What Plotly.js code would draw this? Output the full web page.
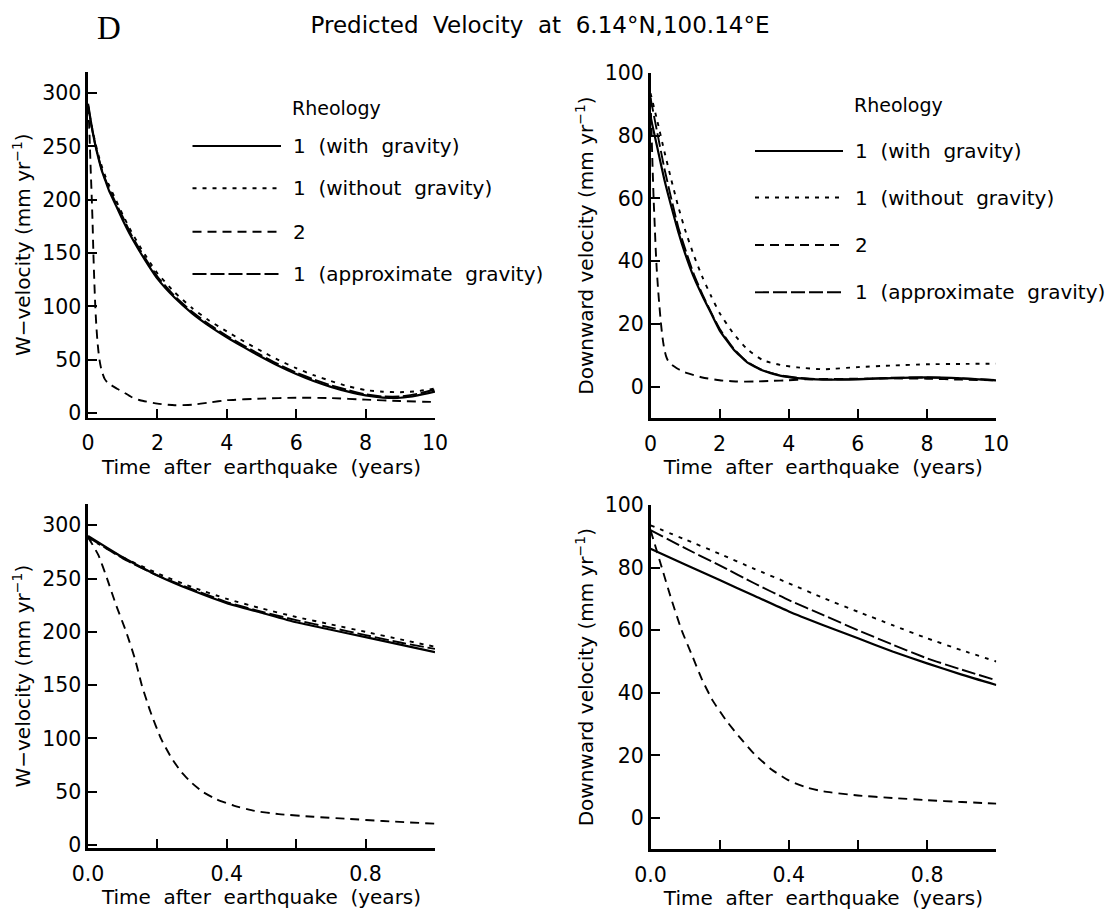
<!DOCTYPE html>
<html><head><meta charset="utf-8">
<script src="https://cdn.plot.ly/plotly-3.0.1.min.js"></script>
<style>html,body{margin:0;padding:0;background:#fff;} #chart{width:1112px;height:915px;}</style>
</head><body><div id="chart"></div>
<script>
// ---------------- DATA ----------------
// Top-left: W-velocity, 0-10 years
const tLong = [0,0.1,0.2,0.3,0.4,0.5,0.6,0.8,1,1.25,1.5,1.75,2,2.5,3,3.5,4,4.5,5,5.5,6,6.5,7,7.5,8,8.5,9,9.5,10];
const wGrav10   = [290,270,253,239,227,218,209,195,181,165,151,138,126,108,93.5,81.5,71,61.5,52.5,44,36.5,30,24.5,20,16.5,14.5,14.3,16.5,20];
const wNoGrav10 = [288,270,255,242,231,222,214,200,186,170,156,143,131,113,98.5,86.5,76.5,67,58,49.5,42,35.5,30,25,21.5,20,19.5,20.5,23];
const wApprox10 = [289,269,253,240,228,219,211,197,184,167,153,140,128,109.5,95,83,72.5,63,54,45.5,38,31.5,26,21.5,17.5,15.5,15.5,18,22];
const tW2Long = [0,0.03,0.055,0.08,0.11,0.135,0.155,0.18,0.21,0.24,0.27,0.3,0.33,0.37,0.42,0.48,0.55,0.65,0.75,0.85,1,1.25,1.5,2,2.5,3,3.5,4,5,6,7,8,9,10];
const wRheo2_10 = [289,272,250,226,200,175,150,125,100,82,68,58,50,43,37,32,29,26.5,24.5,22.5,20,15,12,8.8,7.3,7.8,9.8,12,13.5,14.3,14,12.5,11.2,10.3];

// Bottom-left: W-velocity, 0-1 year
const tShort = [0,0.1,0.2,0.3,0.4,0.5,0.6,0.7,0.8,0.9,1];
const wGrav1   = [290,270,253,239,227,218,209,202,195,188,181];
const wNoGrav1 = [288,270,255,242,231,222,214,207,200,193,186];
const wApprox1 = [289,269,253,240,228,219,211,204,197,190,184];
const tW2Short = [0,0.03,0.055,0.08,0.11,0.135,0.155,0.18,0.21,0.24,0.27,0.3,0.33,0.37,0.42,0.48,0.55,0.65,0.75,0.85,1];
const wRheo2_1 = [289,272,250,226,200,175,150,125,100,82,68,58,50,43,37,32,29,26.5,24.5,22.5,20];

// Top-right: downward velocity, 0-10 years
const tDLong = [0,0.2,0.4,0.6,0.8,1,1.25,1.5,1.75,2,2.4,2.8,3.25,3.75,4.25,5,6,7,8,9,10];
const dGrav10   = [86,76,66,57.5,49.5,42.5,35,29,23.5,18,12,7.8,5.2,3.6,2.8,2.3,2.4,2.8,3,2.7,2.1];
const dNoGrav10 = [93.5,84.5,75,66,57.5,50,42,35,29,23.5,17,12,8.5,7,6.2,5.6,6.3,6.8,7.2,7.3,7.4];
const dApprox10 = [92,80.7,69.6,60,51,44,36,29.5,23.8,18.5,12.3,8,5.3,3.7,2.9,2.4,2.5,2.9,3,2.7,2.2];
const tD2Long = [0,0.03,0.06,0.09,0.12,0.15,0.18,0.22,0.26,0.3,0.35,0.4,0.45,0.5,0.6,0.7,0.8,0.9,1,1.5,2,2.5,3,3.5,4,4.5,5,6,7,8,9,10];
const dRheo2_10 = [92,81,70,60,52,44,37.5,31,25.5,20.5,15.5,12,9.8,8.5,7.2,6.4,5.7,5.1,4.6,3,2.1,1.7,1.7,1.9,2.1,2.4,2.5,2.6,2.7,2.6,2.3,2.1];

// Bottom-right: downward velocity, 0-1 year
const dGrav1   = [86,81,76,71,66,61.6,57.4,53.2,49.4,45.8,42.5];
const dNoGrav1 = [93.5,89,84.4,79.6,75,70.3,65.9,61.6,57.4,53.6,50];
const dApprox1 = [92,86.2,80.7,75,69.6,64.8,60,55.4,51,47.4,44];
const tD2Short = [0,0.03,0.06,0.09,0.12,0.15,0.18,0.22,0.26,0.3,0.35,0.4,0.45,0.5,0.6,0.7,0.8,0.9,1];
const dRheo2_1 = [92,81,70,60,52,44,37.5,31,25.5,20.5,15.5,12,9.8,8.5,7.2,6.4,5.7,5.1,4.6];

// Labels
const legendTitle = 'Rheology';
const seriesLabels = ['1 (with gravity)', '1 (without gravity)', '2', '1 (approximate gravity)'];
const xTickLong = [0,2,4,6,8,10];
const xTickLongText = ['0','2','4','6','8','10'];
const xTickShort = [0,0.4,0.8];
const xTickShortText = ['0.0','0.4','0.8'];
const xMinorShort = [0.2,0.6,1.0];
const yTickW = [0,50,100,150,200,250,300];
const yTickD = [0,20,40,60,80,100];
const xTitleText = 'Time after earthquake (years)';
const yTitleW = 'W\u2212velocity (mm yr<sup>\u22121</sup>)';
const yTitleD = 'Downward velocity (mm yr<sup>\u22121</sup>)';
const mainTitle = 'Predicted Velocity at 6.14\u00B0N,100.14\u00B0E';
const panelLetter = 'D';

// ---------------- STYLE / LAYOUT ----------------
const W = 1112, H = 915;
const fx = p => p / W;
const fy = p => 1 - p / H;
const wide = s => s.split(' ').join('\u00A0\u00A0');
const nb = s => s.split(' ').join('\u00A0');
const FONT = 'DejaVu Sans, Verdana, sans-serif';

const styles = [
  {dash:'solid', width:2.2},
  {dash:'4px,6px', width:1.9},
  {dash:'9px,6px', width:1.9},
  {dash:'14px,4px', width:1.9}
];

const panels = [
  {n:'', xd:[88,435], yd:[71.7,417.7], xr:[0,10], yr:[-4.4,320], xt:xTickLong, xtt:xTickLongText, xm:null, yt:yTickW, yti:yTitleW,
   series:[[tLong,wGrav10],[tLong,wNoGrav10],[tW2Long,wRheo2_10],[tLong,wApprox10]]},
  {n:'2', xd:[650.5,996], yd:[72.7,418.3], xr:[0,10], yr:[-10,100], xt:xTickLong, xtt:xTickLongText, xm:null, yt:yTickD, yti:yTitleD,
   series:[[tDLong,dGrav10],[tDLong,dNoGrav10],[tD2Long,dRheo2_10],[tDLong,dApprox10]]},
  {n:'3', xd:[88,435], yd:[504,848.3], xr:[0,1], yr:[-3.1,320], xt:xTickShort, xtt:xTickShortText, xm:xMinorShort, yt:yTickW, yti:yTitleW,
   series:[[tShort,wGrav1],[tShort,wNoGrav1],[tW2Short,wRheo2_1],[tShort,wApprox1]]},
  {n:'4', xd:[650.5,996.3], yd:[505,849.3], xr:[0,1], yr:[-10,100], xt:xTickShort, xtt:xTickShortText, xm:xMinorShort, yt:yTickD, yti:yTitleD,
   series:[[tShort,dGrav1],[tShort,dNoGrav1],[tD2Short,dRheo2_1],[tShort,dApprox1]]}
];

const axisBase = {
  showline:true, linecolor:'black', linewidth:2.6, mirror:false,
  ticks:'inside', ticklen:9, tickwidth:2, tickcolor:'black',
  showgrid:false, zeroline:false, fixedrange:true,
  tickfont:{family:FONT, size:20.5, color:'black'}
};

const traces = [];
const layout = {
  width:W, height:H, margin:{l:0,r:0,t:0,b:0},
  paper_bgcolor:'white', plot_bgcolor:'rgba(0,0,0,0)',
  showlegend:false,
  title:{text:wide(mainTitle), x:fx(540), y:fy(25), xref:'paper', yref:'paper', xanchor:'center', yanchor:'middle',
         font:{family:FONT, size:23, color:'black'}},
  annotations:[], shapes:[]
};

panels.forEach(p => {
  const xa = 'x' + p.n, ya = 'y' + p.n;
  p.series.forEach((s, i) => {
    traces.push({x:s[0], y:s[1], xaxis:xa, yaxis:ya, type:'scatter', mode:'lines',
      line:{color:'black', width:styles[i].width, dash:styles[i].dash, shape:'spline', smoothing:0.5},
      name:seriesLabels[i], showlegend:false, hoverinfo:'skip'});
  });
  const xaxis = Object.assign({}, axisBase, {
    domain:[fx(p.xd[0]), fx(p.xd[1])], anchor:ya, range:p.xr,
    tickmode:'array', tickvals:p.xt, ticktext:p.xtt, ticklabelstandoff:5,
    title:{text:wide(xTitleText), standoff:5, font:{family:FONT, size:20, color:'black'}}
  });
  if (p.xm) {
    xaxis.minor = {tickmode:'array', tickvals:p.xm, ticks:'inside', ticklen:9, tickwidth:2, tickcolor:'black', showgrid:false};
  }
  layout['xaxis' + p.n] = xaxis;
  layout['yaxis' + p.n] = Object.assign({}, axisBase, {
    domain:[fy(p.yd[1]), fy(p.yd[0])], anchor:xa, range:p.yr,
    tickmode:'array', tickvals:p.yt, ticktext:p.yt.map(String), ticklabelstandoff:0,
    title:{text:nb(p.yti), standoff:6, font:{family:FONT, size:20, color:'black'}}
  });
});

// Legends (drawn for the two upper panels)
const legends = [
  {x0:192.5, x1:281, tx:291, hx:290, hy:108, rows:[146,188.3,231.7,274]},
  {x0:755, x1:843, tx:853, hx:852, hy:105, rows:[151,197.5,245,292.3]}
];
legends.forEach(L => {
  layout.annotations.push({text:legendTitle, x:fx(L.hx), y:fy(L.hy), xref:'paper', yref:'paper',
    xanchor:'left', yanchor:'middle', showarrow:false, font:{family:FONT, size:19, color:'black'}});
  seriesLabels.forEach((lab, i) => {
    layout.shapes.push({type:'line', xref:'paper', yref:'paper', x0:fx(L.x0), x1:fx(L.x1), y0:fy(L.rows[i]), y1:fy(L.rows[i]),
      line:{color:'black', width:styles[i].width, dash:styles[i].dash}});
    layout.annotations.push({text:wide(lab), x:fx(L.tx), y:fy(L.rows[i]), xref:'paper', yref:'paper',
      xanchor:'left', yanchor:'middle', showarrow:false, font:{family:FONT, size:20, color:'black'}});
  });
});

layout.annotations.push({text:panelLetter, x:fx(109), y:fy(28), xref:'paper', yref:'paper', xanchor:'center', yanchor:'middle',
  showarrow:false, font:{family:'Liberation Serif, Times New Roman, serif', size:33, color:'black'}});

Plotly.newPlot('chart', traces, layout, {staticPlot:true, displayModeBar:false});
</script>
</body></html>
